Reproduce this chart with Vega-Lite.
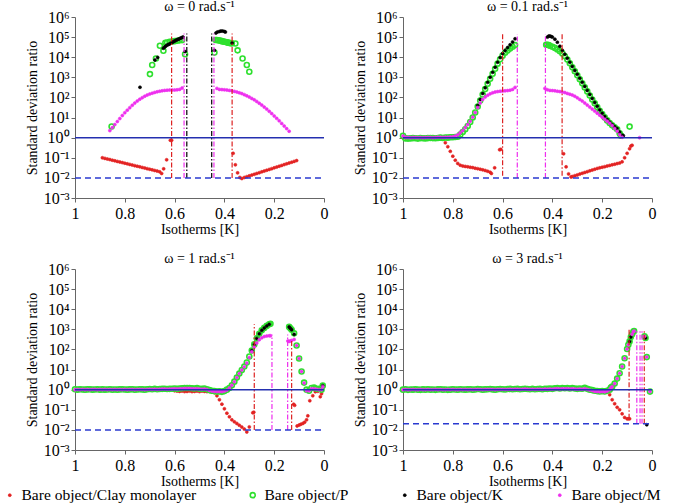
{
"$schema":"https://vega.github.io/schema/vega-lite/v6.json",
"background":"white",
"padding":{"left":2,"top":0,"right":5,"bottom":0},
"data":{"values":[
{"p":0,"s":"Clay monolayer","x":0.89,"y":0.1},{"p":0,"s":"Clay monolayer","x":0.88,"y":0.0933},{"p":0,"s":"Clay monolayer","x":0.87,"y":0.0871},{"p":0,"s":"Clay monolayer","x":0.86,"y":0.0813},{"p":0,"s":"Clay monolayer","x":0.85,"y":0.0759},{"p":0,"s":"Clay monolayer","x":0.84,"y":0.0708},{"p":0,"s":"Clay monolayer","x":0.83,"y":0.0661},{"p":0,"s":"Clay monolayer","x":0.82,"y":0.0617},{"p":0,"s":"Clay monolayer","x":0.81,"y":0.0575},{"p":0,"s":"Clay monolayer","x":0.80,"y":0.0537},{"p":0,"s":"Clay monolayer","x":0.79,"y":0.0501},{"p":0,"s":"Clay monolayer","x":0.78,"y":0.0468},{"p":0,"s":"Clay monolayer","x":0.77,"y":0.0437},{"p":0,"s":"Clay monolayer","x":0.76,"y":0.0407},{"p":0,"s":"Clay monolayer","x":0.75,"y":0.038},{"p":0,"s":"Clay monolayer","x":0.74,"y":0.0355},{"p":0,"s":"Clay monolayer","x":0.73,"y":0.0331},{"p":0,"s":"Clay monolayer","x":0.72,"y":0.0309},{"p":0,"s":"Clay monolayer","x":0.71,"y":0.0288},{"p":0,"s":"Clay monolayer","x":0.70,"y":0.0269},{"p":0,"s":"Clay monolayer","x":0.69,"y":0.0251},{"p":0,"s":"Clay monolayer","x":0.68,"y":0.0234},{"p":0,"s":"Clay monolayer","x":0.67,"y":0.0219},{"p":0,"s":"Clay monolayer","x":0.66,"y":0.02},{"p":0,"s":"Clay monolayer","x":0.652,"y":0.0166},{"p":0,"s":"Clay monolayer","x":0.644,"y":0.0282},{"p":0,"s":"Clay monolayer","x":0.632,"y":0.0794},{"p":0,"s":"Clay monolayer","x":0.617,"y":0.74},{"p":0,"s":"Clay monolayer","x":0.612,"y":0.74},
{"p":0,"s":"Clay monolayer","x":0.365,"y":0.166},{"p":0,"s":"Clay monolayer","x":0.356,"y":0.0447},{"p":0,"s":"Clay monolayer","x":0.347,"y":0.0178},{"p":0,"s":"Clay monolayer","x":0.338,"y":0.0105},{"p":0,"s":"Clay monolayer","x":0.33,"y":0.0093},{"p":0,"s":"Clay monolayer","x":0.32,"y":0.0105},{"p":0,"s":"Clay monolayer","x":0.31,"y":0.0115},{"p":0,"s":"Clay monolayer","x":0.30,"y":0.0126},{"p":0,"s":"Clay monolayer","x":0.29,"y":0.0138},{"p":0,"s":"Clay monolayer","x":0.28,"y":0.0151},{"p":0,"s":"Clay monolayer","x":0.27,"y":0.0166},{"p":0,"s":"Clay monolayer","x":0.26,"y":0.0182},{"p":0,"s":"Clay monolayer","x":0.25,"y":0.02},{"p":0,"s":"Clay monolayer","x":0.24,"y":0.0219},{"p":0,"s":"Clay monolayer","x":0.23,"y":0.024},{"p":0,"s":"Clay monolayer","x":0.22,"y":0.0263},{"p":0,"s":"Clay monolayer","x":0.21,"y":0.0288},{"p":0,"s":"Clay monolayer","x":0.20,"y":0.0316},{"p":0,"s":"Clay monolayer","x":0.19,"y":0.0347},{"p":0,"s":"Clay monolayer","x":0.18,"y":0.038},{"p":0,"s":"Clay monolayer","x":0.17,"y":0.0417},{"p":0,"s":"Clay monolayer","x":0.16,"y":0.0457},{"p":0,"s":"Clay monolayer","x":0.15,"y":0.0501},{"p":0,"s":"Clay monolayer","x":0.14,"y":0.055},{"p":0,"s":"Clay monolayer","x":0.13,"y":0.0603},{"p":0,"s":"Clay monolayer","x":0.12,"y":0.0661},{"p":0,"s":"Clay monolayer","x":0.11,"y":0.0724},
{"p":0,"s":"P","x":0.853,"y":3.6},{"p":0,"s":"P","x":0.699,"y":1450},{"p":0,"s":"P","x":0.69,"y":4100},{"p":0,"s":"P","x":0.675,"y":8700},{"p":0,"s":"P","x":0.659,"y":37000},{"p":0,"s":"P","x":0.645,"y":21000},{"p":0,"s":"P","x":0.637,"y":52000},{"p":0,"s":"P","x":0.63,"y":54000},{"p":0,"s":"P","x":0.62,"y":58000},{"p":0,"s":"P","x":0.61,"y":60000},{"p":0,"s":"P","x":0.60,"y":63000},{"p":0,"s":"P","x":0.59,"y":66000},{"p":0,"s":"P","x":0.58,"y":69000},{"p":0,"s":"P","x":0.57,"y":71000},{"p":0,"s":"P","x":0.558,"y":14000},
{"p":0,"s":"P","x":0.44,"y":17000},{"p":0,"s":"P","x":0.435,"y":72000},{"p":0,"s":"P","x":0.43,"y":72000},{"p":0,"s":"P","x":0.425,"y":70000},{"p":0,"s":"P","x":0.42,"y":68000},{"p":0,"s":"P","x":0.415,"y":65000},{"p":0,"s":"P","x":0.41,"y":63000},{"p":0,"s":"P","x":0.405,"y":61000},{"p":0,"s":"P","x":0.40,"y":59000},{"p":0,"s":"P","x":0.395,"y":57000},{"p":0,"s":"P","x":0.39,"y":55000},{"p":0,"s":"P","x":0.385,"y":53000},{"p":0,"s":"P","x":0.38,"y":51000},{"p":0,"s":"P","x":0.375,"y":50000},{"p":0,"s":"P","x":0.37,"y":49000},{"p":0,"s":"P","x":0.356,"y":48000},{"p":0,"s":"P","x":0.347,"y":22000},{"p":0,"s":"P","x":0.327,"y":8700},{"p":0,"s":"P","x":0.31,"y":4100},{"p":0,"s":"P","x":0.30,"y":1900},
{"p":0,"s":"K","x":0.739,"y":320},{"p":0,"s":"K","x":0.679,"y":7200},{"p":0,"s":"K","x":0.668,"y":9800},{"p":0,"s":"K","x":0.645,"y":28000},{"p":0,"s":"K","x":0.64,"y":32000},{"p":0,"s":"K","x":0.635,"y":36000},{"p":0,"s":"K","x":0.63,"y":40000},{"p":0,"s":"K","x":0.625,"y":43000},{"p":0,"s":"K","x":0.62,"y":46000},{"p":0,"s":"K","x":0.615,"y":50000},{"p":0,"s":"K","x":0.61,"y":54000},{"p":0,"s":"K","x":0.605,"y":59000},{"p":0,"s":"K","x":0.60,"y":64000},{"p":0,"s":"K","x":0.595,"y":69000},{"p":0,"s":"K","x":0.59,"y":74000},{"p":0,"s":"K","x":0.585,"y":79000},{"p":0,"s":"K","x":0.58,"y":84000},{"p":0,"s":"K","x":0.575,"y":90000},{"p":0,"s":"K","x":0.57,"y":96000},{"p":0,"s":"K","x":0.566,"y":100000},{"p":0,"s":"K","x":0.558,"y":19000},
{"p":0,"s":"K","x":0.44,"y":22000},{"p":0,"s":"K","x":0.434,"y":160000},{"p":0,"s":"K","x":0.428,"y":180000},{"p":0,"s":"K","x":0.42,"y":190000},{"p":0,"s":"K","x":0.414,"y":200000},{"p":0,"s":"K","x":0.407,"y":200000},{"p":0,"s":"K","x":0.40,"y":190000},{"p":0,"s":"K","x":0.396,"y":180000},{"p":0,"s":"K","x":0.369,"y":51000},
{"p":0,"s":"M","x":0.86,"y":2.24},{"p":0,"s":"M","x":0.85,"y":3.16},{"p":0,"s":"M","x":0.84,"y":4.47},{"p":0,"s":"M","x":0.83,"y":6.31},{"p":0,"s":"M","x":0.82,"y":8.91},{"p":0,"s":"M","x":0.81,"y":12.6},{"p":0,"s":"M","x":0.80,"y":17.4},{"p":0,"s":"M","x":0.79,"y":23.4},{"p":0,"s":"M","x":0.78,"y":30.9},{"p":0,"s":"M","x":0.77,"y":40.7},{"p":0,"s":"M","x":0.76,"y":52.5},{"p":0,"s":"M","x":0.75,"y":66.1},{"p":0,"s":"M","x":0.74,"y":81.3},{"p":0,"s":"M","x":0.73,"y":97.7},{"p":0,"s":"M","x":0.72,"y":115},{"p":0,"s":"M","x":0.71,"y":132},{"p":0,"s":"M","x":0.70,"y":148},{"p":0,"s":"M","x":0.69,"y":162},{"p":0,"s":"M","x":0.68,"y":178},{"p":0,"s":"M","x":0.67,"y":191},{"p":0,"s":"M","x":0.66,"y":204},{"p":0,"s":"M","x":0.65,"y":214},{"p":0,"s":"M","x":0.64,"y":224},{"p":0,"s":"M","x":0.63,"y":229},{"p":0,"s":"M","x":0.62,"y":234},{"p":0,"s":"M","x":0.61,"y":234},{"p":0,"s":"M","x":0.60,"y":234},{"p":0,"s":"M","x":0.59,"y":240},{"p":0,"s":"M","x":0.58,"y":251},{"p":0,"s":"M","x":0.57,"y":295},
{"p":0,"s":"M","x":0.43,"y":282},{"p":0,"s":"M","x":0.42,"y":251},{"p":0,"s":"M","x":0.41,"y":245},{"p":0,"s":"M","x":0.40,"y":240},{"p":0,"s":"M","x":0.39,"y":234},{"p":0,"s":"M","x":0.38,"y":224},{"p":0,"s":"M","x":0.37,"y":214},{"p":0,"s":"M","x":0.36,"y":200},{"p":0,"s":"M","x":0.35,"y":186},{"p":0,"s":"M","x":0.34,"y":170},{"p":0,"s":"M","x":0.33,"y":155},{"p":0,"s":"M","x":0.32,"y":138},{"p":0,"s":"M","x":0.31,"y":120},{"p":0,"s":"M","x":0.30,"y":105},{"p":0,"s":"M","x":0.29,"y":89.1},{"p":0,"s":"M","x":0.28,"y":75.9},{"p":0,"s":"M","x":0.27,"y":63.1},{"p":0,"s":"M","x":0.26,"y":51.3},{"p":0,"s":"M","x":0.25,"y":41.7},{"p":0,"s":"M","x":0.24,"y":33.1},{"p":0,"s":"M","x":0.23,"y":26.3},{"p":0,"s":"M","x":0.22,"y":20.4},{"p":0,"s":"M","x":0.21,"y":15.8},{"p":0,"s":"M","x":0.20,"y":12},{"p":0,"s":"M","x":0.19,"y":9.12},{"p":0,"s":"M","x":0.18,"y":6.92},{"p":0,"s":"M","x":0.17,"y":5.13},{"p":0,"s":"M","x":0.16,"y":3.8},{"p":0,"s":"M","x":0.15,"y":2.82},{"p":0,"s":"M","x":0.14,"y":2.09},
{"p":0,"k":"v","s":"Clay monolayer","x":0.612,"y":0.01,"y2":150000},{"p":0,"k":"v","s":"Clay monolayer","x":0.369,"y":0.01,"y2":150000},{"p":0,"k":"v","s":"M","x":0.562,"y":0.01,"y2":150000},{"p":0,"k":"v","s":"M","x":0.442,"y":0.01,"y2":150000},{"p":0,"k":"v","s":"K","x":0.551,"y":0.01,"y2":150000},{"p":0,"k":"v","s":"K","x":0.451,"y":0.01,"y2":150000},
{"p":0,"k":"one","y":1},{"p":0,"k":"lim","y":0.01},

{"p":0.1,"s":"Clay monolayer","x":1.0,"y":0.97},{"p":0.1,"s":"Clay monolayer","x":0.99,"y":0.95},{"p":0.1,"s":"Clay monolayer","x":0.98,"y":0.97},{"p":0.1,"s":"Clay monolayer","x":0.97,"y":0.96},{"p":0.1,"s":"Clay monolayer","x":0.96,"y":0.95},{"p":0.1,"s":"Clay monolayer","x":0.95,"y":0.97},{"p":0.1,"s":"Clay monolayer","x":0.94,"y":0.98},{"p":0.1,"s":"Clay monolayer","x":0.93,"y":0.96},{"p":0.1,"s":"Clay monolayer","x":0.92,"y":0.95},{"p":0.1,"s":"Clay monolayer","x":0.91,"y":0.97},{"p":0.1,"s":"Clay monolayer","x":0.90,"y":0.96},{"p":0.1,"s":"Clay monolayer","x":0.89,"y":0.95},{"p":0.1,"s":"Clay monolayer","x":0.88,"y":0.97},{"p":0.1,"s":"Clay monolayer","x":0.87,"y":0.96},{"p":0.1,"s":"Clay monolayer","x":0.86,"y":0.95},{"p":0.1,"s":"Clay monolayer","x":0.85,"y":0.93},{"p":0.1,"s":"Clay monolayer","x":0.84,"y":0.9},
{"p":0.1,"s":"Clay monolayer","x":0.83,"y":0.56},{"p":0.1,"s":"Clay monolayer","x":0.82,"y":0.355},{"p":0.1,"s":"Clay monolayer","x":0.81,"y":0.209},{"p":0.1,"s":"Clay monolayer","x":0.80,"y":0.12},{"p":0.1,"s":"Clay monolayer","x":0.79,"y":0.0759},{"p":0.1,"s":"Clay monolayer","x":0.78,"y":0.0525},{"p":0.1,"s":"Clay monolayer","x":0.77,"y":0.0427},{"p":0.1,"s":"Clay monolayer","x":0.76,"y":0.0389},{"p":0.1,"s":"Clay monolayer","x":0.75,"y":0.0372},{"p":0.1,"s":"Clay monolayer","x":0.74,"y":0.0355},{"p":0.1,"s":"Clay monolayer","x":0.73,"y":0.0339},{"p":0.1,"s":"Clay monolayer","x":0.72,"y":0.0324},{"p":0.1,"s":"Clay monolayer","x":0.71,"y":0.0302},{"p":0.1,"s":"Clay monolayer","x":0.70,"y":0.0288},{"p":0.1,"s":"Clay monolayer","x":0.69,"y":0.0269},{"p":0.1,"s":"Clay monolayer","x":0.68,"y":0.0251},{"p":0.1,"s":"Clay monolayer","x":0.67,"y":0.0234},{"p":0.1,"s":"Clay monolayer","x":0.66,"y":0.0214},{"p":0.1,"s":"Clay monolayer","x":0.65,"y":0.0191},{"p":0.1,"s":"Clay monolayer","x":0.645,"y":0.0166},{"p":0.1,"s":"Clay monolayer","x":0.632,"y":0.0316},{"p":0.1,"s":"Clay monolayer","x":0.612,"y":0.251},{"p":0.1,"s":"Clay monolayer","x":0.607,"y":0.263},
{"p":0.1,"s":"Clay monolayer","x":0.355,"y":0.158},{"p":0.1,"s":"Clay monolayer","x":0.345,"y":0.0355},{"p":0.1,"s":"Clay monolayer","x":0.335,"y":0.0158},{"p":0.1,"s":"Clay monolayer","x":0.325,"y":0.0112},{"p":0.1,"s":"Clay monolayer","x":0.32,"y":0.0117},{"p":0.1,"s":"Clay monolayer","x":0.31,"y":0.0129},{"p":0.1,"s":"Clay monolayer","x":0.30,"y":0.0141},{"p":0.1,"s":"Clay monolayer","x":0.29,"y":0.0155},{"p":0.1,"s":"Clay monolayer","x":0.28,"y":0.017},{"p":0.1,"s":"Clay monolayer","x":0.27,"y":0.0186},{"p":0.1,"s":"Clay monolayer","x":0.26,"y":0.0204},{"p":0.1,"s":"Clay monolayer","x":0.25,"y":0.0224},{"p":0.1,"s":"Clay monolayer","x":0.24,"y":0.0245},{"p":0.1,"s":"Clay monolayer","x":0.23,"y":0.0269},{"p":0.1,"s":"Clay monolayer","x":0.22,"y":0.0295},{"p":0.1,"s":"Clay monolayer","x":0.21,"y":0.0316},{"p":0.1,"s":"Clay monolayer","x":0.20,"y":0.0339},{"p":0.1,"s":"Clay monolayer","x":0.19,"y":0.0363},{"p":0.1,"s":"Clay monolayer","x":0.18,"y":0.0389},{"p":0.1,"s":"Clay monolayer","x":0.17,"y":0.0417},{"p":0.1,"s":"Clay monolayer","x":0.16,"y":0.0447},{"p":0.1,"s":"Clay monolayer","x":0.15,"y":0.0479},{"p":0.1,"s":"Clay monolayer","x":0.14,"y":0.0513},{"p":0.1,"s":"Clay monolayer","x":0.13,"y":0.055},{"p":0.1,"s":"Clay monolayer","x":0.12,"y":0.0631},{"p":0.1,"s":"Clay monolayer","x":0.11,"y":0.1},{"p":0.1,"s":"Clay monolayer","x":0.10,"y":0.166},{"p":0.1,"s":"Clay monolayer","x":0.09,"y":0.282},{"p":0.1,"s":"Clay monolayer","x":0.085,"y":0.38},{"p":0.1,"s":"Clay monolayer","x":0.08,"y":0.417},
{"p":0.1,"s":"P","x":1.0,"y":1.25},{"p":0.1,"s":"P","x":0.99,"y":0.92},{"p":0.1,"s":"P","x":0.98,"y":0.9},{"p":0.1,"s":"P","x":0.97,"y":0.92},{"p":0.1,"s":"P","x":0.96,"y":0.95},{"p":0.1,"s":"P","x":0.95,"y":0.93},{"p":0.1,"s":"P","x":0.94,"y":0.9},{"p":0.1,"s":"P","x":0.93,"y":0.95},{"p":0.1,"s":"P","x":0.92,"y":0.93},{"p":0.1,"s":"P","x":0.91,"y":0.92},{"p":0.1,"s":"P","x":0.90,"y":0.95},{"p":0.1,"s":"P","x":0.89,"y":0.97},{"p":0.1,"s":"P","x":0.88,"y":0.95},{"p":0.1,"s":"P","x":0.87,"y":0.93},{"p":0.1,"s":"P","x":0.86,"y":0.97},{"p":0.1,"s":"P","x":0.85,"y":1.0},{"p":0.1,"s":"P","x":0.84,"y":0.97},{"p":0.1,"s":"P","x":0.83,"y":1.02},{"p":0.1,"s":"P","x":0.82,"y":1.0},{"p":0.1,"s":"P","x":0.81,"y":1.05},{"p":0.1,"s":"P","x":0.80,"y":1.05},{"p":0.1,"s":"P","x":0.79,"y":1.08},
{"p":0.1,"s":"P","x":0.78,"y":1.12},{"p":0.1,"s":"P","x":0.77,"y":1.41},{"p":0.1,"s":"P","x":0.76,"y":1.9},{"p":0.1,"s":"P","x":0.75,"y":2.63},{"p":0.1,"s":"P","x":0.74,"y":3.8},{"p":0.1,"s":"P","x":0.73,"y":6.03},{"p":0.1,"s":"P","x":0.72,"y":10},{"p":0.1,"s":"P","x":0.71,"y":17.8},{"p":0.1,"s":"P","x":0.70,"y":35.5},{"p":0.1,"s":"P","x":0.69,"y":70.8},{"p":0.1,"s":"P","x":0.68,"y":141},{"p":0.1,"s":"P","x":0.67,"y":263},{"p":0.1,"s":"P","x":0.66,"y":479},{"p":0.1,"s":"P","x":0.65,"y":851},{"p":0.1,"s":"P","x":0.64,"y":1514},{"p":0.1,"s":"P","x":0.63,"y":2692},{"p":0.1,"s":"P","x":0.62,"y":4786},{"p":0.1,"s":"P","x":0.61,"y":7943},{"p":0.1,"s":"P","x":0.60,"y":12000},{"p":0.1,"s":"P","x":0.59,"y":16600},{"p":0.1,"s":"P","x":0.58,"y":21400},{"p":0.1,"s":"P","x":0.57,"y":26900},{"p":0.1,"s":"P","x":0.56,"y":33000},{"p":0.1,"s":"P","x":0.55,"y":40000},
{"p":0.1,"s":"P","x":0.425,"y":42000},{"p":0.1,"s":"P","x":0.42,"y":42000},{"p":0.1,"s":"P","x":0.415,"y":40000},{"p":0.1,"s":"P","x":0.41,"y":37000},{"p":0.1,"s":"P","x":0.40,"y":33000},{"p":0.1,"s":"P","x":0.39,"y":29000},{"p":0.1,"s":"P","x":0.38,"y":24500},{"p":0.1,"s":"P","x":0.37,"y":20000},{"p":0.1,"s":"P","x":0.36,"y":15500},{"p":0.1,"s":"P","x":0.35,"y":11200},{"p":0.1,"s":"P","x":0.34,"y":7600},{"p":0.1,"s":"P","x":0.33,"y":5000},{"p":0.1,"s":"P","x":0.32,"y":3160},{"p":0.1,"s":"P","x":0.31,"y":2000},{"p":0.1,"s":"P","x":0.30,"y":1260},{"p":0.1,"s":"P","x":0.29,"y":794},{"p":0.1,"s":"P","x":0.28,"y":501},{"p":0.1,"s":"P","x":0.27,"y":316},{"p":0.1,"s":"P","x":0.26,"y":200},{"p":0.1,"s":"P","x":0.25,"y":126},{"p":0.1,"s":"P","x":0.24,"y":79.4},{"p":0.1,"s":"P","x":0.23,"y":51.3},{"p":0.1,"s":"P","x":0.22,"y":33.1},{"p":0.1,"s":"P","x":0.21,"y":21.9},{"p":0.1,"s":"P","x":0.20,"y":14.8},{"p":0.1,"s":"P","x":0.19,"y":10.2},{"p":0.1,"s":"P","x":0.18,"y":7.24},{"p":0.1,"s":"P","x":0.17,"y":5.37},{"p":0.1,"s":"P","x":0.16,"y":4.17},{"p":0.1,"s":"P","x":0.15,"y":3.31},{"p":0.1,"s":"P","x":0.14,"y":2.63},{"p":0.1,"s":"P","x":0.13,"y":1.66},{"p":0.1,"s":"P","x":0.125,"y":1.26},{"p":0.1,"s":"P","x":0.09,"y":3.55},
{"p":0.1,"s":"K","x":0.70,"y":39.8},{"p":0.1,"s":"K","x":0.69,"y":79.4},{"p":0.1,"s":"K","x":0.68,"y":158},{"p":0.1,"s":"K","x":0.67,"y":302},{"p":0.1,"s":"K","x":0.66,"y":562},{"p":0.1,"s":"K","x":0.65,"y":1000},{"p":0.1,"s":"K","x":0.64,"y":1778},{"p":0.1,"s":"K","x":0.63,"y":3162},{"p":0.1,"s":"K","x":0.62,"y":5623},{"p":0.1,"s":"K","x":0.61,"y":9550},{"p":0.1,"s":"K","x":0.60,"y":15100},{"p":0.1,"s":"K","x":0.59,"y":21900},{"p":0.1,"s":"K","x":0.58,"y":30200},{"p":0.1,"s":"K","x":0.57,"y":41700},{"p":0.1,"s":"K","x":0.56,"y":57500},{"p":0.1,"s":"K","x":0.55,"y":83000},
{"p":0.1,"s":"K","x":0.42,"y":100000},{"p":0.1,"s":"K","x":0.415,"y":112000},{"p":0.1,"s":"K","x":0.41,"y":112000},{"p":0.1,"s":"K","x":0.405,"y":107000},{"p":0.1,"s":"K","x":0.40,"y":100000},{"p":0.1,"s":"K","x":0.39,"y":79000},{"p":0.1,"s":"K","x":0.38,"y":56000},{"p":0.1,"s":"K","x":0.37,"y":35000},{"p":0.1,"s":"K","x":0.36,"y":22000},{"p":0.1,"s":"K","x":0.35,"y":14100},{"p":0.1,"s":"K","x":0.34,"y":8900},{"p":0.1,"s":"K","x":0.33,"y":5600},{"p":0.1,"s":"K","x":0.32,"y":3500},{"p":0.1,"s":"K","x":0.31,"y":2200},{"p":0.1,"s":"K","x":0.30,"y":1410},{"p":0.1,"s":"K","x":0.29,"y":891},{"p":0.1,"s":"K","x":0.28,"y":562},{"p":0.1,"s":"K","x":0.27,"y":355},{"p":0.1,"s":"K","x":0.26,"y":224},{"p":0.1,"s":"K","x":0.25,"y":141},{"p":0.1,"s":"K","x":0.24,"y":89.1},{"p":0.1,"s":"K","x":0.23,"y":56.2},{"p":0.1,"s":"K","x":0.22,"y":36.3},{"p":0.1,"s":"K","x":0.21,"y":24},{"p":0.1,"s":"K","x":0.20,"y":16.2},{"p":0.1,"s":"K","x":0.19,"y":11.2},{"p":0.1,"s":"K","x":0.18,"y":7.94},{"p":0.1,"s":"K","x":0.17,"y":5.89},{"p":0.1,"s":"K","x":0.16,"y":4.47},{"p":0.1,"s":"K","x":0.15,"y":3.55},{"p":0.1,"s":"K","x":0.14,"y":2.82},{"p":0.1,"s":"K","x":0.13,"y":1.9},{"p":0.1,"s":"K","x":0.12,"y":1.32},{"p":0.1,"s":"K","x":0.115,"y":1.26},
{"p":0.1,"s":"M","x":1.0,"y":1.2},{"p":0.1,"s":"M","x":0.99,"y":1.05},{"p":0.1,"s":"M","x":0.98,"y":1.02},{"p":0.1,"s":"M","x":0.97,"y":1.0},{"p":0.1,"s":"M","x":0.96,"y":1.02},{"p":0.1,"s":"M","x":0.95,"y":1.03},{"p":0.1,"s":"M","x":0.94,"y":1.0},{"p":0.1,"s":"M","x":0.93,"y":1.02},{"p":0.1,"s":"M","x":0.92,"y":1.0},{"p":0.1,"s":"M","x":0.91,"y":1.02},{"p":0.1,"s":"M","x":0.90,"y":1.03},{"p":0.1,"s":"M","x":0.89,"y":1.02},{"p":0.1,"s":"M","x":0.88,"y":1.0},{"p":0.1,"s":"M","x":0.87,"y":1.03},{"p":0.1,"s":"M","x":0.86,"y":1.05},{"p":0.1,"s":"M","x":0.85,"y":1.05},{"p":0.1,"s":"M","x":0.84,"y":1.03},{"p":0.1,"s":"M","x":0.83,"y":1.05},{"p":0.1,"s":"M","x":0.82,"y":1.05},{"p":0.1,"s":"M","x":0.81,"y":1.08},{"p":0.1,"s":"M","x":0.80,"y":1.1},
{"p":0.1,"s":"M","x":0.79,"y":1.2},{"p":0.1,"s":"M","x":0.78,"y":1.38},{"p":0.1,"s":"M","x":0.77,"y":1.78},{"p":0.1,"s":"M","x":0.76,"y":2.24},{"p":0.1,"s":"M","x":0.75,"y":3.16},{"p":0.1,"s":"M","x":0.74,"y":4.47},{"p":0.1,"s":"M","x":0.73,"y":6.61},{"p":0.1,"s":"M","x":0.72,"y":10.5},{"p":0.1,"s":"M","x":0.71,"y":17.8},{"p":0.1,"s":"M","x":0.70,"y":31.6},{"p":0.1,"s":"M","x":0.69,"y":52.5},{"p":0.1,"s":"M","x":0.68,"y":79.4},{"p":0.1,"s":"M","x":0.67,"y":105},{"p":0.1,"s":"M","x":0.66,"y":129},{"p":0.1,"s":"M","x":0.65,"y":151},{"p":0.1,"s":"M","x":0.64,"y":170},{"p":0.1,"s":"M","x":0.63,"y":186},{"p":0.1,"s":"M","x":0.62,"y":195},{"p":0.1,"s":"M","x":0.61,"y":204},{"p":0.1,"s":"M","x":0.60,"y":209},{"p":0.1,"s":"M","x":0.59,"y":214},{"p":0.1,"s":"M","x":0.58,"y":219},{"p":0.1,"s":"M","x":0.57,"y":229},{"p":0.1,"s":"M","x":0.56,"y":251},{"p":0.1,"s":"M","x":0.55,"y":316},
{"p":0.1,"s":"M","x":0.43,"y":282},{"p":0.1,"s":"M","x":0.42,"y":240},{"p":0.1,"s":"M","x":0.41,"y":224},{"p":0.1,"s":"M","x":0.40,"y":219},{"p":0.1,"s":"M","x":0.39,"y":214},{"p":0.1,"s":"M","x":0.38,"y":204},{"p":0.1,"s":"M","x":0.37,"y":195},{"p":0.1,"s":"M","x":0.36,"y":186},{"p":0.1,"s":"M","x":0.35,"y":174},{"p":0.1,"s":"M","x":0.34,"y":158},{"p":0.1,"s":"M","x":0.33,"y":145},{"p":0.1,"s":"M","x":0.32,"y":132},{"p":0.1,"s":"M","x":0.31,"y":115},{"p":0.1,"s":"M","x":0.30,"y":95.5},{"p":0.1,"s":"M","x":0.29,"y":79.4},{"p":0.1,"s":"M","x":0.28,"y":66.1},{"p":0.1,"s":"M","x":0.27,"y":52.5},{"p":0.1,"s":"M","x":0.26,"y":41.7},{"p":0.1,"s":"M","x":0.25,"y":33.1},{"p":0.1,"s":"M","x":0.24,"y":26.3},{"p":0.1,"s":"M","x":0.23,"y":20.9},{"p":0.1,"s":"M","x":0.22,"y":16.6},{"p":0.1,"s":"M","x":0.21,"y":13.2},{"p":0.1,"s":"M","x":0.20,"y":10.5},{"p":0.1,"s":"M","x":0.19,"y":8.32},{"p":0.1,"s":"M","x":0.18,"y":6.61},{"p":0.1,"s":"M","x":0.17,"y":5.25},{"p":0.1,"s":"M","x":0.16,"y":3.98},{"p":0.1,"s":"M","x":0.15,"y":2.88},{"p":0.1,"s":"M","x":0.14,"y":2.09},{"p":0.1,"s":"M","x":0.13,"y":1.41},{"p":0.1,"s":"M","x":0.12,"y":1.05},{"p":0.1,"s":"M","x":0.05,"y":1.0},
{"p":0.1,"k":"v","s":"Clay monolayer","x":0.6,"y":0.0126,"y2":140000},{"p":0.1,"k":"v","s":"Clay monolayer","x":0.361,"y":0.0126,"y2":140000},{"p":0.1,"k":"v","s":"M","x":0.541,"y":0.01,"y2":140000},{"p":0.1,"k":"v","s":"M","x":0.428,"y":0.01,"y2":140000},
{"p":0.1,"k":"one","y":1},{"p":0.1,"k":"lim","y":0.01},

{"p":1,"s":"Clay monolayer","x":0.60,"y":0.88},{"p":1,"s":"Clay monolayer","x":0.59,"y":0.85},{"p":1,"s":"Clay monolayer","x":0.58,"y":0.82},{"p":1,"s":"Clay monolayer","x":0.57,"y":0.85},{"p":1,"s":"Clay monolayer","x":0.56,"y":0.8},{"p":1,"s":"Clay monolayer","x":0.55,"y":0.82},{"p":1,"s":"Clay monolayer","x":0.54,"y":0.85},{"p":1,"s":"Clay monolayer","x":0.53,"y":0.8},{"p":1,"s":"Clay monolayer","x":0.52,"y":0.82},{"p":1,"s":"Clay monolayer","x":0.51,"y":0.85},{"p":1,"s":"Clay monolayer","x":0.50,"y":0.8},{"p":1,"s":"Clay monolayer","x":0.49,"y":0.85},{"p":1,"s":"Clay monolayer","x":0.48,"y":0.82},{"p":1,"s":"Clay monolayer","x":0.47,"y":0.8},{"p":1,"s":"Clay monolayer","x":0.46,"y":0.82},{"p":1,"s":"Clay monolayer","x":0.45,"y":0.75},
{"p":1,"s":"Clay monolayer","x":0.44,"y":0.708},{"p":1,"s":"Clay monolayer","x":0.43,"y":0.501},{"p":1,"s":"Clay monolayer","x":0.42,"y":0.316},{"p":1,"s":"Clay monolayer","x":0.41,"y":0.191},{"p":1,"s":"Clay monolayer","x":0.40,"y":0.112},{"p":1,"s":"Clay monolayer","x":0.39,"y":0.0676},{"p":1,"s":"Clay monolayer","x":0.38,"y":0.0447},{"p":1,"s":"Clay monolayer","x":0.37,"y":0.0316},{"p":1,"s":"Clay monolayer","x":0.36,"y":0.0251},{"p":1,"s":"Clay monolayer","x":0.35,"y":0.0209},{"p":1,"s":"Clay monolayer","x":0.34,"y":0.017},{"p":1,"s":"Clay monolayer","x":0.33,"y":0.0138},{"p":1,"s":"Clay monolayer","x":0.32,"y":0.011},{"p":1,"s":"Clay monolayer","x":0.31,"y":0.0079},{"p":1,"s":"Clay monolayer","x":0.30,"y":0.0141},{"p":1,"s":"Clay monolayer","x":0.286,"y":0.0708},{"p":1,"s":"Clay monolayer","x":0.282,"y":0.0759},
{"p":1,"s":"Clay monolayer","x":0.122,"y":0.19},{"p":1,"s":"Clay monolayer","x":0.118,"y":0.166},{"p":1,"s":"Clay monolayer","x":0.108,"y":0.0158},{"p":1,"s":"Clay monolayer","x":0.10,"y":0.0174},{"p":1,"s":"Clay monolayer","x":0.093,"y":0.0191},{"p":1,"s":"Clay monolayer","x":0.085,"y":0.0209},{"p":1,"s":"Clay monolayer","x":0.078,"y":0.024},{"p":1,"s":"Clay monolayer","x":0.07,"y":0.0316},{"p":1,"s":"Clay monolayer","x":0.065,"y":0.0501},{"p":1,"s":"Clay monolayer","x":0.057,"y":0.282},{"p":1,"s":"Clay monolayer","x":0.045,"y":0.5},{"p":1,"s":"Clay monolayer","x":0.035,"y":0.79},{"p":1,"s":"Clay monolayer","x":0.025,"y":0.83},{"p":1,"s":"Clay monolayer","x":0.015,"y":0.447},{"p":1,"s":"Clay monolayer","x":0.01,"y":0.63},
{"p":1,"s":"P","x":1.0,"y":1.05},{"p":1,"s":"P","x":0.99,"y":1.0},{"p":1,"s":"P","x":0.98,"y":1.05},{"p":1,"s":"P","x":0.97,"y":1.02},{"p":1,"s":"P","x":0.96,"y":1.0},{"p":1,"s":"P","x":0.95,"y":1.03},{"p":1,"s":"P","x":0.94,"y":1.05},{"p":1,"s":"P","x":0.93,"y":1.0},{"p":1,"s":"P","x":0.92,"y":1.02},{"p":1,"s":"P","x":0.91,"y":1.05},{"p":1,"s":"P","x":0.90,"y":1.0},{"p":1,"s":"P","x":0.89,"y":1.03},{"p":1,"s":"P","x":0.88,"y":1.0},{"p":1,"s":"P","x":0.87,"y":1.02},{"p":1,"s":"P","x":0.86,"y":1.05},{"p":1,"s":"P","x":0.85,"y":1.0},{"p":1,"s":"P","x":0.84,"y":1.02},{"p":1,"s":"P","x":0.83,"y":1.0},{"p":1,"s":"P","x":0.82,"y":1.03},{"p":1,"s":"P","x":0.81,"y":1.05},{"p":1,"s":"P","x":0.80,"y":1.02},{"p":1,"s":"P","x":0.79,"y":1.0},{"p":1,"s":"P","x":0.78,"y":1.03},{"p":1,"s":"P","x":0.77,"y":1.05},{"p":1,"s":"P","x":0.76,"y":1.0},{"p":1,"s":"P","x":0.75,"y":1.02},{"p":1,"s":"P","x":0.74,"y":1.05},{"p":1,"s":"P","x":0.73,"y":1.03},{"p":1,"s":"P","x":0.72,"y":1.0},{"p":1,"s":"P","x":0.71,"y":1.05},{"p":1,"s":"P","x":0.70,"y":1.08},{"p":1,"s":"P","x":0.69,"y":1.05},{"p":1,"s":"P","x":0.68,"y":1.1},{"p":1,"s":"P","x":0.67,"y":1.05},{"p":1,"s":"P","x":0.66,"y":1.08},{"p":1,"s":"P","x":0.65,"y":1.1},{"p":1,"s":"P","x":0.64,"y":1.12},{"p":1,"s":"P","x":0.63,"y":1.08},{"p":1,"s":"P","x":0.62,"y":1.1},{"p":1,"s":"P","x":0.61,"y":1.12},{"p":1,"s":"P","x":0.60,"y":1.15},{"p":1,"s":"P","x":0.59,"y":1.1},{"p":1,"s":"P","x":0.58,"y":1.15},{"p":1,"s":"P","x":0.57,"y":1.18},{"p":1,"s":"P","x":0.56,"y":1.2},{"p":1,"s":"P","x":0.55,"y":1.22},{"p":1,"s":"P","x":0.54,"y":1.2},{"p":1,"s":"P","x":0.53,"y":1.18},{"p":1,"s":"P","x":0.52,"y":1.15},{"p":1,"s":"P","x":0.51,"y":1.2},{"p":1,"s":"P","x":0.50,"y":1.12},{"p":1,"s":"P","x":0.49,"y":1.1},{"p":1,"s":"P","x":0.48,"y":1.15},{"p":1,"s":"P","x":0.47,"y":1.05},{"p":1,"s":"P","x":0.46,"y":0.95},{"p":1,"s":"P","x":0.45,"y":0.88},{"p":1,"s":"P","x":0.44,"y":0.85},{"p":1,"s":"P","x":0.43,"y":0.8},{"p":1,"s":"P","x":0.42,"y":0.82},{"p":1,"s":"P","x":0.41,"y":0.78},{"p":1,"s":"P","x":0.40,"y":0.85},
{"p":1,"s":"P","x":0.39,"y":1.0},{"p":1,"s":"P","x":0.38,"y":1.2},{"p":1,"s":"P","x":0.37,"y":1.66},{"p":1,"s":"P","x":0.36,"y":2.51},{"p":1,"s":"P","x":0.35,"y":3.98},{"p":1,"s":"P","x":0.34,"y":6.31},{"p":1,"s":"P","x":0.33,"y":9.55},{"p":1,"s":"P","x":0.32,"y":14.1},{"p":1,"s":"P","x":0.31,"y":22.4},{"p":1,"s":"P","x":0.30,"y":44.7},{"p":1,"s":"P","x":0.29,"y":89.1},{"p":1,"s":"P","x":0.28,"y":178},{"p":1,"s":"P","x":0.27,"y":355},{"p":1,"s":"P","x":0.26,"y":603},{"p":1,"s":"P","x":0.25,"y":891},{"p":1,"s":"P","x":0.24,"y":1175},{"p":1,"s":"P","x":0.23,"y":1479},{"p":1,"s":"P","x":0.22,"y":1778},{"p":1,"s":"P","x":0.215,"y":1905},
{"p":1,"s":"P","x":0.14,"y":1318},{"p":1,"s":"P","x":0.135,"y":1122},{"p":1,"s":"P","x":0.13,"y":955},{"p":1,"s":"P","x":0.12,"y":631},{"p":1,"s":"P","x":0.11,"y":158},{"p":1,"s":"P","x":0.10,"y":35.5},{"p":1,"s":"P","x":0.09,"y":7.94},{"p":1,"s":"P","x":0.08,"y":2.24},{"p":1,"s":"P","x":0.07,"y":1.0},{"p":1,"s":"P","x":0.06,"y":0.89},{"p":1,"s":"P","x":0.05,"y":1.2},{"p":1,"s":"P","x":0.04,"y":1.26},{"p":1,"s":"P","x":0.03,"y":1.12},{"p":1,"s":"P","x":0.02,"y":1.12},{"p":1,"s":"P","x":0.01,"y":1.0},{"p":1,"s":"P","x":0.005,"y":1.58},
{"p":1,"s":"K","x":0.29,"y":89.1},{"p":1,"s":"K","x":0.28,"y":178},{"p":1,"s":"K","x":0.27,"y":355},{"p":1,"s":"K","x":0.26,"y":603},{"p":1,"s":"K","x":0.25,"y":891},{"p":1,"s":"K","x":0.24,"y":1175},{"p":1,"s":"K","x":0.23,"y":1479},{"p":1,"s":"K","x":0.22,"y":1778},{"p":1,"s":"K","x":0.14,"y":1318},{"p":1,"s":"K","x":0.135,"y":1122},{"p":1,"s":"K","x":0.13,"y":955},{"p":1,"s":"K","x":0.12,"y":562},{"p":1,"s":"K","x":0.005,"y":1.58},
{"p":1,"s":"M","x":1.0,"y":1.0},{"p":1,"s":"M","x":0.99,"y":1.02},{"p":1,"s":"M","x":0.98,"y":1.0},{"p":1,"s":"M","x":0.97,"y":1.03},{"p":1,"s":"M","x":0.96,"y":1.0},{"p":1,"s":"M","x":0.95,"y":1.02},{"p":1,"s":"M","x":0.94,"y":1.0},{"p":1,"s":"M","x":0.93,"y":1.02},{"p":1,"s":"M","x":0.92,"y":1.03},{"p":1,"s":"M","x":0.91,"y":1.0},{"p":1,"s":"M","x":0.90,"y":1.02},{"p":1,"s":"M","x":0.89,"y":1.0},{"p":1,"s":"M","x":0.88,"y":1.03},{"p":1,"s":"M","x":0.87,"y":1.0},{"p":1,"s":"M","x":0.86,"y":1.02},{"p":1,"s":"M","x":0.85,"y":1.0},{"p":1,"s":"M","x":0.84,"y":1.03},{"p":1,"s":"M","x":0.83,"y":1.0},{"p":1,"s":"M","x":0.82,"y":1.02},{"p":1,"s":"M","x":0.81,"y":1.0},{"p":1,"s":"M","x":0.80,"y":1.03},{"p":1,"s":"M","x":0.79,"y":1.0},{"p":1,"s":"M","x":0.78,"y":1.02},{"p":1,"s":"M","x":0.77,"y":1.03},{"p":1,"s":"M","x":0.76,"y":1.0},{"p":1,"s":"M","x":0.75,"y":1.02},{"p":1,"s":"M","x":0.74,"y":1.03},{"p":1,"s":"M","x":0.73,"y":1.02},{"p":1,"s":"M","x":0.72,"y":1.0},{"p":1,"s":"M","x":0.71,"y":1.03},{"p":1,"s":"M","x":0.70,"y":1.05},{"p":1,"s":"M","x":0.69,"y":1.03},{"p":1,"s":"M","x":0.68,"y":1.05},{"p":1,"s":"M","x":0.67,"y":1.03},{"p":1,"s":"M","x":0.66,"y":1.05},{"p":1,"s":"M","x":0.65,"y":1.07},{"p":1,"s":"M","x":0.64,"y":1.08},{"p":1,"s":"M","x":0.63,"y":1.05},{"p":1,"s":"M","x":0.62,"y":1.07},{"p":1,"s":"M","x":0.61,"y":1.08},{"p":1,"s":"M","x":0.60,"y":1.1},{"p":1,"s":"M","x":0.59,"y":1.08},{"p":1,"s":"M","x":0.58,"y":1.1},{"p":1,"s":"M","x":0.57,"y":1.12},{"p":1,"s":"M","x":0.56,"y":1.15},{"p":1,"s":"M","x":0.55,"y":1.15},{"p":1,"s":"M","x":0.54,"y":1.15},{"p":1,"s":"M","x":0.53,"y":1.12},{"p":1,"s":"M","x":0.52,"y":1.1},{"p":1,"s":"M","x":0.51,"y":1.12},{"p":1,"s":"M","x":0.50,"y":1.08},{"p":1,"s":"M","x":0.49,"y":1.05},{"p":1,"s":"M","x":0.48,"y":1.08},{"p":1,"s":"M","x":0.47,"y":1.02},{"p":1,"s":"M","x":0.46,"y":0.92},{"p":1,"s":"M","x":0.45,"y":0.85},{"p":1,"s":"M","x":0.44,"y":0.82},{"p":1,"s":"M","x":0.43,"y":0.8},{"p":1,"s":"M","x":0.42,"y":0.8},{"p":1,"s":"M","x":0.41,"y":0.8},{"p":1,"s":"M","x":0.40,"y":0.85},{"p":1,"s":"M","x":0.39,"y":0.95},
{"p":1,"s":"M","x":0.38,"y":1.2},{"p":1,"s":"M","x":0.37,"y":1.66},{"p":1,"s":"M","x":0.36,"y":2.51},{"p":1,"s":"M","x":0.35,"y":3.98},{"p":1,"s":"M","x":0.34,"y":6.31},{"p":1,"s":"M","x":0.33,"y":9.55},{"p":1,"s":"M","x":0.32,"y":13.8},{"p":1,"s":"M","x":0.31,"y":20.9},{"p":1,"s":"M","x":0.30,"y":39.8},{"p":1,"s":"M","x":0.29,"y":75.9},{"p":1,"s":"M","x":0.28,"y":132},{"p":1,"s":"M","x":0.27,"y":209},{"p":1,"s":"M","x":0.26,"y":302},{"p":1,"s":"M","x":0.25,"y":380},{"p":1,"s":"M","x":0.24,"y":437},{"p":1,"s":"M","x":0.23,"y":468},{"p":1,"s":"M","x":0.22,"y":479},{"p":1,"s":"M","x":0.215,"y":479},
{"p":1,"s":"M","x":0.145,"y":263},{"p":1,"s":"M","x":0.14,"y":251},{"p":1,"s":"M","x":0.135,"y":263},{"p":1,"s":"M","x":0.13,"y":282},{"p":1,"s":"M","x":0.12,"y":316},{"p":1,"s":"M","x":0.11,"y":158},{"p":1,"s":"M","x":0.10,"y":35.5},{"p":1,"s":"M","x":0.09,"y":7.94},{"p":1,"s":"M","x":0.08,"y":2.14},{"p":1,"s":"M","x":0.07,"y":0.89},{"p":1,"s":"M","x":0.06,"y":0.89},{"p":1,"s":"M","x":0.05,"y":1.12},{"p":1,"s":"M","x":0.04,"y":1.12},{"p":1,"s":"M","x":0.03,"y":1.05},{"p":1,"s":"M","x":0.02,"y":1.0},{"p":1,"s":"M","x":0.01,"y":1.0},{"p":1,"s":"M","x":0.005,"y":1.41},
{"p":1,"k":"v","s":"Clay monolayer","x":0.28,"y":0.01,"y2":1800},{"p":1,"k":"v","s":"Clay monolayer","x":0.13,"y":0.01,"y2":320},{"p":1,"k":"v","s":"M","x":0.209,"y":0.01,"y2":560},{"p":1,"k":"v","s":"M","x":0.146,"y":0.01,"y2":560},
{"p":1,"k":"one","y":1},{"p":1,"k":"lim","y":0.01},

{"p":3,"s":"Clay monolayer","x":0.18,"y":0.85},{"p":3,"s":"Clay monolayer","x":0.17,"y":0.562},{"p":3,"s":"Clay monolayer","x":0.16,"y":0.316},{"p":3,"s":"Clay monolayer","x":0.15,"y":0.2},{"p":3,"s":"Clay monolayer","x":0.14,"y":0.132},{"p":3,"s":"Clay monolayer","x":0.13,"y":0.1},{"p":3,"s":"Clay monolayer","x":0.12,"y":0.0631},{"p":3,"s":"Clay monolayer","x":0.11,"y":0.0417},{"p":3,"s":"Clay monolayer","x":0.10,"y":0.0355},{"p":3,"s":"Clay monolayer","x":0.095,"y":0.0355},{"p":3,"s":"Clay monolayer","x":0.09,"y":0.0355},
{"p":3,"s":"P","x":1.0,"y":1.0},{"p":3,"s":"P","x":0.99,"y":1.05},{"p":3,"s":"P","x":0.98,"y":0.98},{"p":3,"s":"P","x":0.97,"y":1.02},{"p":3,"s":"P","x":0.96,"y":1.0},{"p":3,"s":"P","x":0.95,"y":1.05},{"p":3,"s":"P","x":0.94,"y":1.0},{"p":3,"s":"P","x":0.93,"y":0.98},{"p":3,"s":"P","x":0.92,"y":1.03},{"p":3,"s":"P","x":0.91,"y":1.0},{"p":3,"s":"P","x":0.90,"y":1.05},{"p":3,"s":"P","x":0.89,"y":1.0},{"p":3,"s":"P","x":0.88,"y":1.02},{"p":3,"s":"P","x":0.87,"y":0.98},{"p":3,"s":"P","x":0.86,"y":1.03},{"p":3,"s":"P","x":0.85,"y":1.05},{"p":3,"s":"P","x":0.84,"y":1.0},{"p":3,"s":"P","x":0.83,"y":1.02},{"p":3,"s":"P","x":0.82,"y":0.98},{"p":3,"s":"P","x":0.81,"y":1.0},{"p":3,"s":"P","x":0.80,"y":1.05},{"p":3,"s":"P","x":0.79,"y":1.02},{"p":3,"s":"P","x":0.78,"y":1.0},{"p":3,"s":"P","x":0.77,"y":1.05},{"p":3,"s":"P","x":0.76,"y":1.02},{"p":3,"s":"P","x":0.75,"y":1.0},{"p":3,"s":"P","x":0.74,"y":1.03},{"p":3,"s":"P","x":0.73,"y":1.05},{"p":3,"s":"P","x":0.72,"y":1.0},{"p":3,"s":"P","x":0.71,"y":1.02},{"p":3,"s":"P","x":0.70,"y":1.08},{"p":3,"s":"P","x":0.69,"y":1.05},{"p":3,"s":"P","x":0.68,"y":1.0},{"p":3,"s":"P","x":0.67,"y":1.03},{"p":3,"s":"P","x":0.66,"y":1.05},{"p":3,"s":"P","x":0.65,"y":1.08},{"p":3,"s":"P","x":0.64,"y":1.03},{"p":3,"s":"P","x":0.63,"y":1.0},{"p":3,"s":"P","x":0.62,"y":1.05},{"p":3,"s":"P","x":0.61,"y":1.08},{"p":3,"s":"P","x":0.60,"y":1.05},{"p":3,"s":"P","x":0.59,"y":1.02},{"p":3,"s":"P","x":0.58,"y":1.08},{"p":3,"s":"P","x":0.57,"y":1.1},{"p":3,"s":"P","x":0.56,"y":1.05},{"p":3,"s":"P","x":0.55,"y":1.08},{"p":3,"s":"P","x":0.54,"y":1.1},{"p":3,"s":"P","x":0.53,"y":1.05},{"p":3,"s":"P","x":0.52,"y":1.08},{"p":3,"s":"P","x":0.51,"y":1.12},{"p":3,"s":"P","x":0.50,"y":1.08},{"p":3,"s":"P","x":0.49,"y":1.05},{"p":3,"s":"P","x":0.48,"y":1.1},{"p":3,"s":"P","x":0.47,"y":1.05},{"p":3,"s":"P","x":0.46,"y":1.08},{"p":3,"s":"P","x":0.45,"y":1.1},{"p":3,"s":"P","x":0.44,"y":1.05},{"p":3,"s":"P","x":0.43,"y":1.12},{"p":3,"s":"P","x":0.42,"y":1.1},{"p":3,"s":"P","x":0.41,"y":1.15},{"p":3,"s":"P","x":0.40,"y":1.1},{"p":3,"s":"P","x":0.39,"y":1.18},{"p":3,"s":"P","x":0.38,"y":1.2},{"p":3,"s":"P","x":0.37,"y":1.15},{"p":3,"s":"P","x":0.36,"y":1.2},{"p":3,"s":"P","x":0.35,"y":1.18},{"p":3,"s":"P","x":0.34,"y":1.22},{"p":3,"s":"P","x":0.33,"y":1.15},{"p":3,"s":"P","x":0.32,"y":1.2},{"p":3,"s":"P","x":0.31,"y":1.15},{"p":3,"s":"P","x":0.30,"y":1.1},{"p":3,"s":"P","x":0.29,"y":1.15},{"p":3,"s":"P","x":0.28,"y":1.12},{"p":3,"s":"P","x":0.27,"y":1.25},{"p":3,"s":"P","x":0.26,"y":1.1},{"p":3,"s":"P","x":0.25,"y":1.0},{"p":3,"s":"P","x":0.24,"y":0.95},{"p":3,"s":"P","x":0.23,"y":0.88},{"p":3,"s":"P","x":0.22,"y":0.85},{"p":3,"s":"P","x":0.21,"y":0.82},{"p":3,"s":"P","x":0.20,"y":0.85},{"p":3,"s":"P","x":0.19,"y":0.82},{"p":3,"s":"P","x":0.18,"y":0.88},
{"p":3,"s":"P","x":0.17,"y":1.0},{"p":3,"s":"P","x":0.165,"y":1.26},{"p":3,"s":"P","x":0.16,"y":1.41},{"p":3,"s":"P","x":0.15,"y":2.0},{"p":3,"s":"P","x":0.14,"y":3.55},{"p":3,"s":"P","x":0.13,"y":6.5},{"p":3,"s":"P","x":0.12,"y":14.1},{"p":3,"s":"P","x":0.11,"y":36.3},{"p":3,"s":"P","x":0.10,"y":105},{"p":3,"s":"P","x":0.095,"y":170},{"p":3,"s":"P","x":0.09,"y":251},{"p":3,"s":"P","x":0.085,"y":417},{"p":3,"s":"P","x":0.08,"y":562},{"p":3,"s":"P","x":0.075,"y":759},{"p":3,"s":"P","x":0.072,"y":832},{"p":3,"s":"P","x":0.03,"y":447},{"p":3,"s":"P","x":0.026,"y":372},{"p":3,"s":"P","x":0.021,"y":41.7},{"p":3,"s":"P","x":0.008,"y":0.8},
{"p":3,"s":"K","x":0.09,"y":251},{"p":3,"s":"K","x":0.085,"y":417},{"p":3,"s":"K","x":0.026,"y":372},{"p":3,"s":"K","x":0.021,"y":0.018},
{"p":3,"s":"M","x":1.0,"y":1.0},{"p":3,"s":"M","x":0.99,"y":1.02},{"p":3,"s":"M","x":0.98,"y":1.0},{"p":3,"s":"M","x":0.97,"y":1.0},{"p":3,"s":"M","x":0.96,"y":1.02},{"p":3,"s":"M","x":0.95,"y":1.0},{"p":3,"s":"M","x":0.94,"y":1.0},{"p":3,"s":"M","x":0.93,"y":1.02},{"p":3,"s":"M","x":0.92,"y":1.0},{"p":3,"s":"M","x":0.91,"y":1.0},{"p":3,"s":"M","x":0.90,"y":1.02},{"p":3,"s":"M","x":0.89,"y":1.0},{"p":3,"s":"M","x":0.88,"y":1.0},{"p":3,"s":"M","x":0.87,"y":1.02},{"p":3,"s":"M","x":0.86,"y":1.0},{"p":3,"s":"M","x":0.85,"y":1.02},{"p":3,"s":"M","x":0.84,"y":1.0},{"p":3,"s":"M","x":0.83,"y":1.0},{"p":3,"s":"M","x":0.82,"y":1.02},{"p":3,"s":"M","x":0.81,"y":1.0},{"p":3,"s":"M","x":0.80,"y":1.02},{"p":3,"s":"M","x":0.79,"y":1.0},{"p":3,"s":"M","x":0.78,"y":1.0},{"p":3,"s":"M","x":0.77,"y":1.02},{"p":3,"s":"M","x":0.76,"y":1.0},{"p":3,"s":"M","x":0.75,"y":1.02},{"p":3,"s":"M","x":0.74,"y":1.0},{"p":3,"s":"M","x":0.73,"y":1.02},{"p":3,"s":"M","x":0.72,"y":1.0},{"p":3,"s":"M","x":0.71,"y":1.02},{"p":3,"s":"M","x":0.70,"y":1.03},{"p":3,"s":"M","x":0.69,"y":1.02},{"p":3,"s":"M","x":0.68,"y":1.0},{"p":3,"s":"M","x":0.67,"y":1.02},{"p":3,"s":"M","x":0.66,"y":1.03},{"p":3,"s":"M","x":0.65,"y":1.03},{"p":3,"s":"M","x":0.64,"y":1.02},{"p":3,"s":"M","x":0.63,"y":1.0},{"p":3,"s":"M","x":0.62,"y":1.03},{"p":3,"s":"M","x":0.61,"y":1.03},{"p":3,"s":"M","x":0.60,"y":1.03},{"p":3,"s":"M","x":0.59,"y":1.02},{"p":3,"s":"M","x":0.58,"y":1.03},{"p":3,"s":"M","x":0.57,"y":1.05},{"p":3,"s":"M","x":0.56,"y":1.03},{"p":3,"s":"M","x":0.55,"y":1.05},{"p":3,"s":"M","x":0.54,"y":1.05},{"p":3,"s":"M","x":0.53,"y":1.03},{"p":3,"s":"M","x":0.52,"y":1.05},{"p":3,"s":"M","x":0.51,"y":1.07},{"p":3,"s":"M","x":0.50,"y":1.05},{"p":3,"s":"M","x":0.49,"y":1.03},{"p":3,"s":"M","x":0.48,"y":1.05},{"p":3,"s":"M","x":0.47,"y":1.03},{"p":3,"s":"M","x":0.46,"y":1.05},{"p":3,"s":"M","x":0.45,"y":1.05},{"p":3,"s":"M","x":0.44,"y":1.03},{"p":3,"s":"M","x":0.43,"y":1.07},{"p":3,"s":"M","x":0.42,"y":1.05},{"p":3,"s":"M","x":0.41,"y":1.08},{"p":3,"s":"M","x":0.40,"y":1.05},{"p":3,"s":"M","x":0.39,"y":1.1},{"p":3,"s":"M","x":0.38,"y":1.12},{"p":3,"s":"M","x":0.37,"y":1.08},{"p":3,"s":"M","x":0.36,"y":1.12},{"p":3,"s":"M","x":0.35,"y":1.1},{"p":3,"s":"M","x":0.34,"y":1.12},{"p":3,"s":"M","x":0.33,"y":1.08},{"p":3,"s":"M","x":0.32,"y":1.1},{"p":3,"s":"M","x":0.31,"y":1.08},{"p":3,"s":"M","x":0.30,"y":1.05},{"p":3,"s":"M","x":0.29,"y":1.08},{"p":3,"s":"M","x":0.28,"y":1.05},{"p":3,"s":"M","x":0.27,"y":1.1},{"p":3,"s":"M","x":0.26,"y":1.03},{"p":3,"s":"M","x":0.25,"y":0.95},{"p":3,"s":"M","x":0.24,"y":0.9},{"p":3,"s":"M","x":0.23,"y":0.82},{"p":3,"s":"M","x":0.22,"y":0.8},{"p":3,"s":"M","x":0.21,"y":0.78},{"p":3,"s":"M","x":0.20,"y":0.8},{"p":3,"s":"M","x":0.19,"y":0.78},{"p":3,"s":"M","x":0.18,"y":0.85},
{"p":3,"s":"M","x":0.17,"y":1.0},{"p":3,"s":"M","x":0.165,"y":1.26},{"p":3,"s":"M","x":0.16,"y":1.41},{"p":3,"s":"M","x":0.15,"y":2.0},{"p":3,"s":"M","x":0.14,"y":3.55},{"p":3,"s":"M","x":0.13,"y":6.5},{"p":3,"s":"M","x":0.12,"y":14.1},{"p":3,"s":"M","x":0.11,"y":36.3},{"p":3,"s":"M","x":0.10,"y":105},{"p":3,"s":"M","x":0.095,"y":170},{"p":3,"s":"M","x":0.08,"y":562},{"p":3,"s":"M","x":0.075,"y":759},{"p":3,"s":"M","x":0.072,"y":832},{"p":3,"s":"M","x":0.03,"y":447},{"p":3,"s":"M","x":0.021,"y":41.7},{"p":3,"s":"M","x":0.008,"y":0.8},
{"p":3,"k":"v","s":"Clay monolayer","x":0.092,"y":0.0355,"y2":1000},{"p":3,"k":"v","s":"Clay monolayer","x":0.031,"y":0.02,"y2":1000},{"p":3,"k":"v","s":"M","x":0.061,"y":0.02,"y2":1000},{"p":3,"k":"v","s":"M","x":0.048,"y":0.02,"y2":1000},{"p":3,"k":"v","s":"M","x":0.04,"y":0.02,"y2":1000},
{"p":3,"k":"one","y":1},{"p":3,"k":"lim","y":0.02}
]},
"facet":{"field":"p","type":"ordinal","sort":[0,0.1,1,3],"header":{"title":null,"labelExpr":"'ω = ' + datum.value + ' rad.s⁻¹'","labelFont":"Liberation Serif","labelFontSize":14,"labelPadding":-5,"labelColor":"#000"}},
"columns":2,
"spacing":{"row":16,"column":24},
"resolve":{"axis":{"x":"independent","y":"independent"}},
"spec":{
 "width":249,"height":181,
 "encoding":{
  "x":{"field":"x","type":"quantitative","scale":{"domain":[0,1],"reverse":true,"nice":false,"zero":false},"axis":{"values":[0,0.2,0.4,0.6,0.8,1],"format":"~g","title":"Isotherms [K]","titlePadding":1,"labelPadding":3}},
  "y":{"field":"y","type":"quantitative","scale":{"type":"log","domain":[0.001,1000000],"nice":false},"axis":{"values":[0.001,0.01,0.1,1,10,100,1000,10000,100000,1000000],"labelExpr":"'10' + ['⁻³','⁻²','⁻¹','⁰','¹','²','³','⁴','⁵','⁶'][round(log(datum.value)/LN10)+3]","title":"Standard deviation ratio","titlePadding":4}}
 },
 "layer":[
  {"transform":[{"filter":"!datum.k"}],
   "mark":{"type":"point","shape":"circle","opacity":1},
   "encoding":{
    "fill":{"field":"s","type":"nominal","scale":{"domain":["Clay monolayer","P","K","M"],"range":["#e32222","transparent","#000000","#ee2fee"]},"legend":{"title":null,"orient":"none","legendX":-73,"legendY":470,"direction":"horizontal","columns":4,"columnPadding":48,"labelLimit":400,"labelExpr":"'Bare object/' + datum.label"}},
    "stroke":{"field":"s","type":"nominal","scale":{"domain":["Clay monolayer","P","K","M"],"range":["#e32222","#2ee02e","#000000","#ee2fee"]},"legend":{"title":null,"orient":"none","legendX":-73,"legendY":470,"direction":"horizontal","columns":4,"columnPadding":48,"labelLimit":400,"labelExpr":"'Bare object/' + datum.label"}},
    "strokeWidth":{"field":"s","type":"nominal","scale":{"type":"ordinal","domain":["Clay monolayer","P","K","M"],"range":[0.6,1.6,0.6,0.6]},"legend":{"title":null,"orient":"none","legendX":-73,"legendY":470,"direction":"horizontal","columns":4,"columnPadding":48,"labelLimit":400,"labelExpr":"'Bare object/' + datum.label"}},
    "size":{"field":"s","type":"nominal","scale":{"type":"ordinal","domain":["Clay monolayer","P","K","M"],"range":[9,25,9,9]},"legend":{"title":null,"orient":"none","legendX":-73,"legendY":470,"direction":"horizontal","columns":4,"columnPadding":48,"labelLimit":400,"labelExpr":"'Bare object/' + datum.label"}}
   }},
  {"transform":[{"filter":"datum.k=='v' && datum.s=='Clay monolayer'"}],"mark":{"type":"rule","color":"#dd2222","strokeWidth":1.2,"strokeDash":[5,2,1.5,2]},"encoding":{"y2":{"field":"y2"}}},
  {"transform":[{"filter":"datum.k=='v' && datum.s=='M'"}],"mark":{"type":"rule","color":"#ee2fee","strokeWidth":1.2,"strokeDash":[5,2,1.5,2]},"encoding":{"y2":{"field":"y2"}}},
  {"transform":[{"filter":"datum.k=='v' && datum.s=='K'"}],"mark":{"type":"rule","color":"#000000","strokeWidth":1.2,"strokeDash":[5,2,1.5,2]},"encoding":{"y2":{"field":"y2"}}},
  {"transform":[{"filter":"datum.k=='one'"}],"mark":{"type":"rule","color":"#2430b0","strokeWidth":1.5},"encoding":{"x":{"value":0},"x2":{"value":249}}},
  {"transform":[{"filter":"datum.k=='lim'"}],"mark":{"type":"rule","color":"#2a3ad0","strokeWidth":1.5,"strokeDash":[6,4]},"encoding":{"x":{"value":0},"x2":{"value":249}}}
 ]
},
"config":{
 "font":"Liberation Serif",
 "view":{"stroke":null},
 "axis":{"labelFont":"Liberation Serif","titleFont":"Liberation Serif","titleFontWeight":"normal","labelFontSize":16,"titleFontSize":14,"grid":false,"domainColor":"#666","tickColor":"#666","tickSize":4,"labelColor":"#000","titleColor":"#000","labelFlush":false},
 "legend":{"labelFont":"Liberation Serif","labelFontSize":15.5,"labelColor":"#000","symbolType":"circle","labelLimit":400},
 "header":{"labelFont":"Liberation Serif"}
}
}
